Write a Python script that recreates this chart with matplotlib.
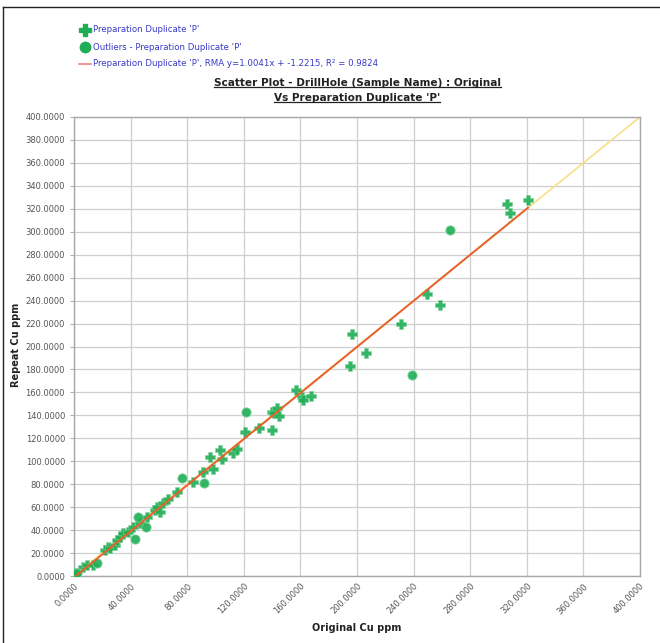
import matplotlib.pyplot as plt
import numpy as np
from matplotlib.lines import Line2D

# duplicate pairs (original, repeat), Cu ppm
orig_dup = [0.7, 6.6, 9.0, 13.6, 21.9, 24.2, 25.4, 29.0, 30.2, 32.5, 34.8, 38.4,
            41.9, 46.6, 51.3, 57.2, 58.4, 60.8, 63.1, 66.7, 72.6, 84.3, 91.4, 96.1,
            98.4, 103.2, 104.3, 112.1, 115.0, 120.8, 131.0, 139.7, 139.7, 141.3,
            143.2, 145.1, 157.1, 161.0, 162.1, 167.2, 194.8, 196.2, 206.6, 231.1,
            249.2, 258.9, 306.0, 308.0, 320.8]
rep_dup = [2.4, 8.1, 9.6, 9.6, 22.7, 25.5, 24.1, 27.0, 31.4, 34.3, 37.2, 38.6,
           43.0, 46.4, 51.7, 57.5, 60.4, 56.0, 63.4, 66.8, 73.5, 82.2, 90.9, 103.4,
           93.0, 109.8, 101.7, 106.9, 110.4, 125.2, 128.7, 127.2, 143.2, 141.8,
           146.1, 139.4, 162.1, 156.3, 153.4, 156.9, 183.3, 211.2, 194.1, 219.6,
           245.5, 236.2, 324.0, 316.0, 327.7]

# outliers
orig_out = [2.4, 16.0, 43.0, 45.0, 50.9, 76.1, 91.9, 121.3, 239.1, 265.7]
rep_out = [2.4, 11.0, 32.0, 51.7, 43.0, 85.1, 81.3, 143.2, 174.9, 301.8]

slope = 1.0041
intercept = -1.2215
r2 = 0.9824

green = "#1fae55"
blue_txt = "#3a3ac8"

plt.rcParams['font.family'] = ['DejaVu Sans']

fig = plt.figure(figsize=(6.60, 6.43), dpi=100)
ax = fig.add_axes([74 / 660, 1 - 576 / 643, 566 / 660, 459 / 643])

# 1:1 reference line and the RMA fit
ax.plot([0, 400], [0, 400], color="#f8df88", linewidth=1.2, zorder=2)
xs_all = orig_dup + orig_out
xfit = np.array([min(xs_all), max(xs_all)])
ax.plot(xfit, slope * xfit + intercept, color="#e9602c", linewidth=1.4, zorder=4)

ax.scatter(orig_dup, rep_dup, marker="P", s=60, color=green, edgecolors="#7fd39a",
           linewidths=0.4, alpha=0.9, zorder=3)
ax.scatter(orig_out, rep_out, marker="o", s=45, color=green, edgecolors="#7fd39a",
           linewidths=0.6, alpha=0.9, zorder=3)

ax.set_xlim(0, 400)
ax.set_ylim(0, 400)
ax.set_xticks(np.arange(0, 401, 40))
ax.set_yticks(np.arange(0, 401, 20))
ax.set_xticklabels(["{:.4f}".format(v) for v in np.arange(0, 401, 40)],
                   rotation=45, ha="right", rotation_mode="anchor")
ax.set_yticklabels(["{:.4f}".format(v) for v in np.arange(0, 401, 20)])
ax.tick_params(axis="both", labelsize=6, labelcolor="#555555", color="#999999",
               length=3, width=0.6)
ax.tick_params(axis="x", length=0, pad=4)
ax.grid(True, color="#cfcfcf", linewidth=0.9)
ax.set_axisbelow(True)
for s in ax.spines.values():
    s.set_color("#a8a8a8")
    s.set_linewidth(1.0)

fig.text(357 / 660, 1 - 628 / 643, "Original Cu ppm", ha="center", va="center",
         fontsize=7, fontweight="bold", color="#222222")
fig.text(16 / 660, 1 - 345 / 643, "Repeat Cu ppm", ha="center", va="center",
         rotation=90, fontsize=7, fontweight="bold", color="#222222")

# title, underlined
t1 = fig.text(357 / 660, 1 - 83 / 643, "Scatter Plot - DrillHole (Sample Name) : Original",
              ha="center", va="center", fontsize=7.6, fontweight="bold", color="#222222")
t2 = fig.text(357 / 660, 1 - 98 / 643, "Vs Preparation Duplicate 'P'",
              ha="center", va="center", fontsize=7.6, fontweight="bold", color="#222222")

# legend, top left
leg_y = [30, 47, 64]
leg_txt = ["Preparation Duplicate 'P'",
           "Outliers - Preparation Duplicate 'P'",
           "Preparation Duplicate 'P', RMA y={:.4f}x + {:.4f}, R\u00b2 = {:.4f}".format(slope, intercept, r2)]
fig.add_artist(Line2D([85 / 660], [1 - leg_y[0] / 643], marker="P", markersize=8,
                      color=green, linestyle="none"))
fig.add_artist(Line2D([85 / 660], [1 - leg_y[1] / 643], marker="o", markersize=7.5,
                      color=green, linestyle="none"))
fig.add_artist(Line2D([79 / 660, 91 / 660], [1 - leg_y[2] / 643] * 2,
                      color="#f08080", linewidth=1.2))
for yy, tx in zip(leg_y, leg_txt):
    fig.text(93 / 660, 1 - yy / 643, tx, ha="left", va="center", fontsize=6.2,
             color=blue_txt)

# frame lines on top and left
fig.add_artist(Line2D([3 / 660, 1], [1 - 7 / 643] * 2, color="#222222", linewidth=1.0))
fig.add_artist(Line2D([3 / 660] * 2, [0, 1 - 7 / 643], color="#222222", linewidth=1.0))

fig.canvas.draw()
renderer = fig.canvas.get_renderer()
inv = fig.transFigure.inverted()
for t in (t1, t2):
    bb = t.get_window_extent(renderer)
    (x0, y0), (x1, y1) = inv.transform([(bb.x0, bb.y0), (bb.x1, bb.y1)])
    fig.add_artist(Line2D([x0, x1], [y0 + 0.002, y0 + 0.002], color="#222222",
                          linewidth=0.9))

fig.savefig("out.png", dpi=100, facecolor="white")
